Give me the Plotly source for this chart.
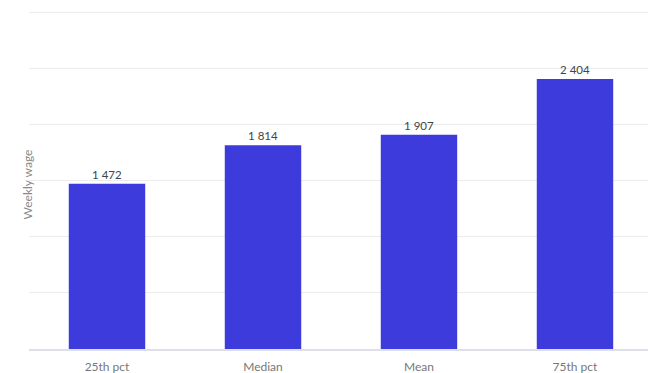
import plotly.graph_objects as go

categories = ["25th pct", "Median", "Mean", "75th pct"]
values = [1472, 1814, 1907, 2404]

fig = go.Figure(go.Bar(
    x=categories, y=values,
    marker=dict(color="#3d3bdc", line=dict(width=0)),
    width=0.49,
    texttemplate="%{y:,}", textposition="outside",
    textfont=dict(color="#444444", size=11.5, family="Lato"),
    cliponaxis=False,
))

top, bottom = 8, 24
fig.update_layout(
    width=648, height=373,
    margin=dict(l=29, r=0, t=top, b=bottom),
    paper_bgcolor="white", plot_bgcolor="white",
    separators=". ",
    showlegend=False,
    font=dict(family="Lato", color="#777777"),
    xaxis=dict(range=[-0.5, 3.468], showgrid=False, ticks="",
               tickfont=dict(size=12, color="#777777"),
               ticklabelstandoff=6,
               showline=True, linecolor="#dde0ea", linewidth=1.5),
    yaxis=dict(range=[0, 3036], dtick=500, showticklabels=False,
               gridcolor="#ececec", gridwidth=1, zeroline=False),
    annotations=[dict(text="Weekly wage", xref="paper", yref="paper",
                      showarrow=False, textangle=-90,
                      font=dict(size=12, color="#888888"))],
)
pw, ph = 648 - 29, 373 - top - bottom
fig.layout.annotations[0].x = (17 - 29) / pw
fig.layout.annotations[0].y = (373 - bottom - 185) / ph

fig.write_html("out.html")
